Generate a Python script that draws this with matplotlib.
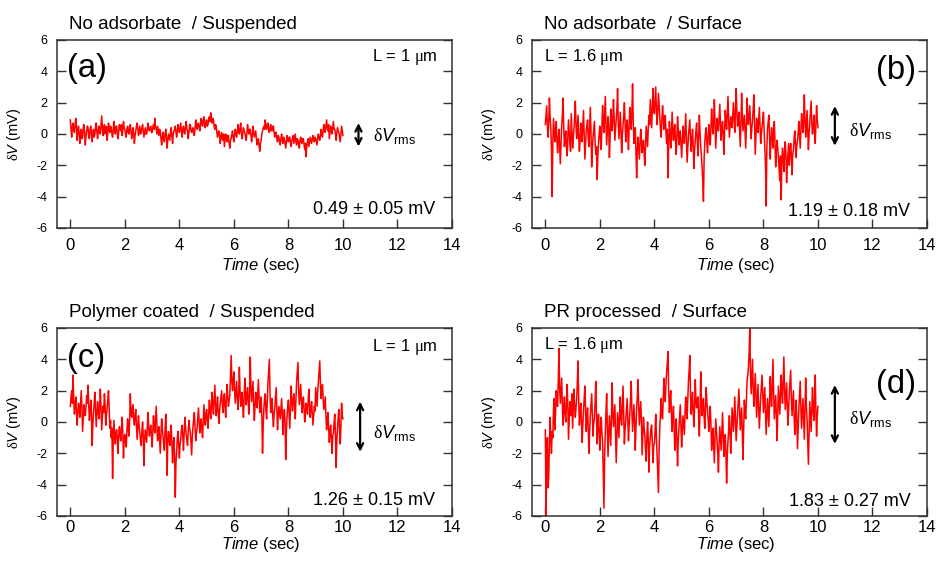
import numpy as np
import matplotlib
matplotlib.use('Agg')
import matplotlib.pyplot as plt

plt.rcParams['font.family'] = ['Liberation Sans', 'DejaVu Sans']
plt.rcParams['mathtext.fontset'] = 'custom'
plt.rcParams['mathtext.rm'] = 'Liberation Sans'
plt.rcParams['mathtext.it'] = 'Liberation Sans:italic'
plt.rcParams['mathtext.sf'] = 'Liberation Serif'
plt.rcParams['axes.unicode_minus'] = False

# time axis: 0 .. 10 s, one value every 25 ms
time = np.linspace(0, 10, 401)

# values (mV), one line = 0.5 s
trace_a = [
    0.9, 0.3, -0.2, 0.5, 0.7, 0.2, 0.1, 0.6, 1.0, 0.4, -0.4, 0.2, 0.5, 0.0, -0.6, 0.1, 0.3, -0.3, -0.2, 0.4,
    0.6, 0.0, -0.7, -0.1, 0.2, 0.5, 0.4, -0.2, -0.3, 0.3, 0.5, 0.0, -0.5, 0.1, 0.3, -0.2, 0.0, 0.4, 0.7, 0.1,
    -0.3, 0.2, 0.5, 0.1, 0.0, 0.6, 1.15, 0.4, -0.1, 0.3, 0.6, 0.0, 0.2, 0.5, -0.4, 0.1, 0.7, 0.3, 0.1, 0.5,
    0.4, 0.0, -0.2, 0.3, 0.8, 0.2, 0.0, 0.5, 0.5, 0.0, -0.3, 0.2, 0.6, 0.3, 0.2, 0.6, -0.1, 0.2, 0.8, 0.4,
    0.3, 0.0, -0.2, 0.3, 0.5, 0.1, 0.0, 0.4, 0.6, 0.2, -0.3, 0.1, 0.4, 0.0, -0.6, -0.1, 0.2, 0.5, 0.7, 0.3,
    -0.1, 0.2, 0.5, 0.0, 0.1, 0.4, 0.6, 0.2, -0.2, 0.1, 0.4, 0.0, 0.0, 0.3, 0.7, 0.3, 0.2, 0.4, 0.5, 0.1,
    0.1, 0.4, 0.6, 0.3, 1.0, 0.5, 0.3, 0.0, 0.5, 0.2, -0.1, 0.3, 0.2, -0.3, -0.7, -0.2, 0.1, -0.3, -0.5, 0.0,
    0.3, -0.2, -0.9, -0.4, 0.0, -0.2, -0.4, 0.1, 0.4, -0.1, -0.6, 0.0, 0.2, 0.3, 0.5, 0.1, -0.2, 0.2, 0.6, 0.3,
    0.1, 0.4, 0.7, 0.2, -0.2, 0.3, 0.5, 0.1, 0.0, 0.5, 0.8, 0.3, 0.2, -0.3, 0.1, 0.6, 0.6, 0.2, 0.1, 0.3,
    0.4, 0.0, -0.1, 0.4, 0.9, 0.5, 0.3, 0.6, 0.7, 0.4, 0.2, 0.6, 1.0, 0.7, 0.5, 0.9, 1.1, 0.6, 0.4, 0.8,
    0.9, 0.5, 0.6, 0.9, 1.1, 0.8, 1.35, 0.9, 0.7, 1.0, 0.9, 0.5, 0.3, 0.6, 0.5, 0.1, -0.2, 0.1, 0.2, -0.1,
    -0.6, -0.2, 0.1, -0.3, -0.4, 0.0, -0.8, -0.4, 0.0, -0.2, -0.5, -0.1, -0.1, -0.6, -0.9, -0.4, -0.3, 0.0, 0.2, -0.2,
    -0.5, -0.1, 0.3, 0.0, -0.2, 0.2, 0.6, 0.2, 0.0, 0.4, 0.7, 0.1, -0.3, 0.0, 0.4, 0.2, 0.1, -0.2, -0.4, 0.0,
    0.6, 0.2, 0.0, 0.3, 0.3, -0.1, -0.5, -0.1, 0.5, 0.1, -0.2, 0.0, 0.2, -0.3, -0.7, -0.4, -0.3, -0.8, -1.1, -0.6,
    -0.4, 0.0, 0.2, 0.4, 0.5, 0.3, 0.9, 0.5, 0.3, 0.6, 0.7, 0.3, 0.1, 0.4, 0.6, 0.2, 0.2, 0.5, 0.5, 0.1,
    -0.2, 0.1, 0.1, -0.3, -0.5, -0.1, -0.2, -0.5, -0.7, -0.3, 0.0, -0.4, -0.6, -0.2, -0.3, -0.6, -0.9, -0.5, -0.1, -0.4,
    -0.5, -0.2, -0.2, -0.6, -0.8, -0.4, -0.3, -0.1, -0.6, -0.3, 0.0, -0.5, -0.7, -0.3, -0.4, -0.7, -0.9, -0.4, -0.2, -0.5,
    -0.6, -0.3, -0.3, -0.7, -1.0, -0.6, -1.45, -0.8, -0.5, -0.3, -0.8, -0.5, -0.2, -0.4, -0.6, -0.3, -0.1, -0.4, -0.5, -0.2,
    -0.3, -0.5, -0.7, -0.2, 0.0, -0.3, -0.4, -0.1, 0.3, 0.0, -0.2, 0.2, 0.6, 0.2, 0.1, 0.5, 0.9, 0.4, 0.2, 0.6,
    -0.3, 0.1, 0.5, 0.2, 0.0, 0.4, 0.8, 0.3, 0.3, 0.0, -0.4, 0.1, 0.4, 0.2, 0.1, -0.2, -0.5, 0.0, 0.5, 0.2,
    -0.1,
]

trace_b = [
    0.6, 1.2, 1.8, 0.5, -0.2, 0.8, 2.3, 1.1, 0.4, -1.0, -4.0, -0.6, 1.0, 0.2, -0.5, 0.3, 0.8, -0.4, -1.2, -0.3,
    0.3, -0.8, -1.9, -0.6, 0.5, 1.2, 2.3, 0.4, -0.8, -0.2, 0.2, -0.9, -1.4, -0.3, 0.9, 0.1, -0.6, -1.1, 1.3, 0.2,
    -0.9, -0.3, 0.4, 1.0, 2.1, 0.6, -0.3, 0.4, 1.2, -0.2, -1.1, -0.4, 0.7, 0.2, -0.5, 0.5, 1.5, 0.0, -1.6, -0.7,
    0.2, 0.6, 0.9, -0.3, -0.8, 0.4, 1.7, 0.1, -2.1, -0.9, -0.2, 0.3, 0.8, -0.5, -1.3, -0.8, -2.9, -1.4, -0.6, 0.0,
    0.5, -0.4, -1.0, 0.3, 1.8, 0.7, 0.1, 1.2, 2.4, 0.6, -0.7, 0.2, 1.1, 0.4, -1.5, -0.2, 1.6, 0.8, 0.2, 1.0,
    2.2, 0.9, -0.4, 0.3, 1.0, 1.6, 2.9, 0.8, -0.3, 0.5, 1.4, 0.2, -1.2, -0.1, 0.6, 1.1, 2.0, 0.7, -0.5, 0.4,
    0.9, 0.1, -1.0, 0.6, 1.7, 0.9, 0.3, 1.4, 3.2, 0.8, -0.6, 0.0, 0.4, -1.2, -2.8, -1.0, -0.2, -0.9, -1.6, -0.5,
    0.3, -0.4, -1.2, -0.6, -0.4, -1.3, -2.0, -0.7, 0.5, -0.2, -0.8, 0.3, 1.2, 0.6, 2.2, 1.3, 0.4, 1.6, 2.9, 1.5,
    1.3, 2.1, 3.0, 1.4, 0.6, 1.5, 2.6, 1.8, 1.0, 0.2, -0.2, 0.9, 1.8, 1.0, 0.3, 0.8, 1.2, 0.1, -0.6, 0.3,
    -2.8, -0.7, 0.8, 0.2, -0.9, -0.3, 1.4, 0.5, -0.4, 0.2, 0.6, -0.5, -1.3, -0.2, 1.1, 0.3, -0.7, -0.1, 0.2, -0.6,
    -1.5, -0.5, 0.5, 0.0, -0.6, 0.4, 1.3, -0.2, -1.8, -0.9, -0.1, 0.4, 0.9, -0.3, -1.1, -0.3, 0.3, -0.8, -2.2, -1.0,
    -0.4, 0.2, 0.7, -0.5, -1.4, 0.0, 1.2, 0.1, -0.8, -1.4, -2.1, -3.0, -4.3, -1.6, -0.5, 0.1, 0.4, -0.6, -1.2, -0.2,
    0.6, 0.0, -0.7, 0.5, 1.6, 0.6, 0.0, 0.9, 2.2, 0.7, -0.9, 0.1, 1.0, 0.5, 0.2, 1.1, 1.9, 0.6, -0.4, 0.3,
    0.8, 0.0, -1.3, 0.2, 1.5, 0.8, 0.3, 1.3, 2.4, 0.9, -0.2, 0.5, 1.1, 0.6, 0.4, 1.2, 2.0, 0.9, 0.1, 1.4,
    2.9, 1.5, 0.5, 0.9, 1.4, 0.3, -0.8, 0.6, 2.6, 1.2, 0.2, 0.7, 1.2, 0.1, -0.9, 0.5, 2.3, 1.1, 0.6, 1.2,
    1.8, 0.6, -0.3, 0.4, 0.9, 1.6, 2.5, 0.7, -1.3, -0.2, 1.0, 0.4, 0.1, 0.9, 1.7, 0.6, -0.6, 0.0, 0.5, 0.9,
    1.4, 0.3, -0.8, -2.0, -4.6, -0.9, 0.3, 0.8, 1.2, -0.1, -1.6, -0.5, 0.4, -0.2, -0.9, 0.1, 0.8, -0.6, -2.1, -1.0,
    -0.4, -0.9, -1.5, -2.2, -3.0, -1.4, -4.2, -1.8, -0.9, -1.5, -2.4, -1.2, -0.5, -1.3, -3.1, -1.9, -1.2, -0.6, -2.0, -1.1,
    -0.6, -1.4, -2.6, -1.3, -1.0, -0.3, 0.2, -0.6, -1.5, -0.7, -0.4, 0.1, 0.8, -0.1, -0.9, 0.2, 1.3, 0.5, 0.1, 0.9,
    2.5, 0.8, -0.2, 0.6, 1.5, 0.3, -1.0, 0.0, 0.7, 1.3, 2.1, 0.6, 0.0, 0.5, 1.2, 0.1, -0.6, 0.6, 1.8, 0.9,
    0.4,
]

trace_c = [
    1.0, 1.6, 2.0, 1.2, 3.0, 1.4, 0.5, 1.0, 1.6, 0.7, -0.2, 0.6, 1.2, 0.8, 0.3, 1.1, 2.0, 0.9, -0.6, 0.2,
    1.1, 0.6, 0.4, 1.0, 1.7, 1.2, 2.35, 1.1, 0.1, 0.7, 1.4, 0.5, -1.5, -0.2, 0.6, 1.2, 1.9, 0.8, -0.3, 0.5,
    1.3, 0.7, 0.2, 0.9, 2.1, 1.0, -0.5, 0.3, 1.0, 0.6, 1.8, 1.1, -0.2, 0.4, 0.9, 1.4, 2.0, 0.7, -0.4, 0.1,
    -1.0, -0.4, -3.6, -1.2, 0.1, -0.6, -1.4, -0.7, -0.5, -1.1, -2.0, -0.9, -0.3, -0.8, -1.2, -0.5, 0.3, -0.6, -2.3, -1.0,
    -0.8, -1.3, -1.6, -0.6, 0.2, -0.4, -0.9, 0.1, 1.8, 0.6, 0.3, 0.9, 1.1, 0.2, -0.2, 0.4, 0.8, -0.1, -1.1, -0.4,
    0.4, -0.3, -0.7, -1.2, -1.5, -0.6, 0.0, -0.9, -2.8, -1.1, -0.5, -0.9, -1.3, -0.2, 0.6, -0.4, -0.9, -0.5, -0.2, -0.8,
    -1.6, -0.6, 0.4, -0.3, -0.7, 0.2, 1.0, -0.2, -1.2, -0.6, -0.3, -1.1, -2.0, -0.8, 0.2, -0.4, -0.9, -1.4, -1.8, -0.5,
    0.5, -0.9, -3.4, -1.2, -0.6, -1.1, -1.5, -0.7, -0.2, -1.3, -2.6, -1.4, -1.0, -2.2, -4.8, -2.6, -1.9, -1.0, -0.6, -1.5,
    -2.3, -1.4, -1.1, -0.5, -0.2, -0.9, -1.8, -0.8, 0.3, -0.3, -0.8, -1.2, -1.5, -0.6, 0.1, -0.4, -0.6, -1.3, -2.1, -0.9,
    -0.3, 0.2, 0.6, -0.4, -1.2, -0.7, -0.4, 0.3, 0.9, 0.0, -0.7, -0.2, 0.2, -0.5, -1.0, 0.1, 1.1, 0.4, -0.2, 0.5,
    0.8, 0.1, -0.4, 0.5, 1.4, 0.7, 0.2, 1.1, 1.9, 1.0, 0.5, 1.5, 2.35, 1.2, 0.4, 0.9, 1.6, 0.6, -0.1, 0.7,
    1.2, 1.6, 2.0, 1.1, 0.6, 1.3, 1.8, 0.9, 0.3, 1.5, 2.4, 1.6, 1.0, 1.4, 1.7, 2.9, 4.25, 2.6, 2.0, 2.7,
    3.2, 2.1, 1.2, 1.9, 2.6, 1.5, 0.8, 1.8, 3.5, 2.0, 1.0, 1.6, 1.9, 1.0, 0.3, 1.5, 2.8, 1.7, 1.1, 1.8,
    2.2, 1.2, 0.5, 1.9, 4.15, 2.2, 1.3, 2.0, 2.6, 1.1, 0.1, 1.0, 1.9, 1.2, 0.9, 1.8, 2.7, 1.5, 0.6, 1.0,
    1.6, 0.3, -2.0, -0.3, 0.9, 1.5, 1.8, 0.7, 0.2, 1.4, 2.5, 3.2, 4.0, 1.8, 0.6, 1.1, 1.5, 0.4, -0.3, 0.5,
    0.9, 1.6, 2.2, 0.8, -0.5, 0.4, 1.0, 0.6, 0.2, 0.9, 1.5, 0.5, -0.8, 0.2, 0.8, 0.1, -2.4, -0.6, 0.4, 1.0,
    1.4, 0.5, -0.4, 0.9, 2.3, 1.4, 0.7, 1.3, 1.8, 1.1, 0.2, 1.5, 2.6, 3.2, 3.8, 2.0, 1.1, 1.8, 2.4, 1.4,
    0.6, 1.2, 1.6, 0.8, 0.0, 0.7, 1.2, 0.9, 0.5, 1.4, 2.1, 1.0, 0.3, 0.9, 1.3, 0.6, -0.2, 0.4, 1.0, 0.7,
    2.2, 1.6, 1.0, 2.0, 2.6, 3.3, 3.9, 2.4, 1.5, 2.1, 2.4, 1.4, 0.8, 1.2, 1.6, 0.4, -0.5, 0.1, 0.6, -0.4,
    -1.3, -0.6, -0.2, -1.1, -2.0, -0.9, -0.7, 0.0, 0.5, -0.8, -2.9, -1.2, -0.4, 0.3, 0.8, -0.5, -1.4, -0.3, 1.2, 0.4,
    0.2,
]

trace_d = [
    -0.5, -6.0, -3.0, -1.0, -4.2, -3.5, -1.2, 0.3, -1.0, -2.0, -0.6, -1.0, 0.8, 1.5, -0.5, 0.6, 2.0, 1.2, 1.0, 2.6,
    4.7, 2.2, 1.2, 2.0, 2.8, 1.0, -0.2, 0.9, 1.6, 0.5, 0.0, 1.3, 2.4, 1.1, -1.1, 0.2, 1.3, 0.7, 0.4, 1.8,
    -0.4, 0.8, 2.1, 1.0, 0.3, 0.9, 1.5, 2.6, 3.9, 1.4, -0.2, 0.6, 1.2, 0.1, -1.3, -0.2, 0.7, 1.5, 2.3, 0.8,
    -0.6, 0.3, 0.9, -0.5, -2.0, -0.6, 0.4, 1.1, 1.8, 0.5, -0.9, -0.1, 0.2, 1.3, 2.6, 0.7, -1.4, -0.3, 0.5, -0.6,
    -1.8, -0.5, 0.3, -0.7, -1.2, -3.2, -5.5, -2.1, -0.6, 0.7, 1.8, -0.4, -2.2, -0.8, 0.4, -0.6, -1.5, 0.3, 2.5, 0.6,
    -0.3, 0.4, 1.1, -0.8, -2.6, -0.9, 0.6, -0.2, -1.0, 0.5, 1.6, 0.2, -0.2, 1.0, 2.3, 0.4, -1.4, -0.5, 0.1, 0.8,
    1.5, 0.2, -1.2, -0.2, 0.6, 1.4, 2.6, 0.7, -0.6, 0.3, 1.1, 0.0, -1.8, -0.3, 0.9, 1.7, 2.7, 1.0, -0.2, 0.6,
    1.3, 0.1, -2.1, -0.8, 0.3, -0.4, -0.9, -1.8, -2.5, -0.9, 0.0, -1.1, -3.2, -1.6, -1.0, -0.4, -0.2, -1.3, -2.6, -1.5,
    -1.4, -0.6, 0.5, -1.0, -2.2, -3.4, -4.5, -1.6, -0.3, 0.6, 1.5, 0.4, 0.2, 1.6, 2.8, 1.8, 1.3, 2.4, 3.2, 3.8,
    4.5, 2.0, 0.6, 1.4, 2.0, 0.5, -0.6, 0.3, 1.0, -0.4, -1.8, -0.5, 0.2, -1.1, -2.8, -1.2, -0.4, 0.4, 1.1, -0.2,
    -1.6, -0.4, 0.4, -0.2, -0.8, 0.6, 1.6, 0.7, 0.2, 1.4, 2.6, 3.3, 4.25, 1.8, 0.5, 1.3, 1.9, 0.6, -0.3, 1.0,
    2.7, 1.4, 0.9, 1.5, 1.6, 0.2, -0.9, 0.8, 3.2, 1.5, 0.4, 1.0, 1.5, 0.3, -0.4, 0.9, 2.2, 1.3, 0.7, 0.1,
    -0.6, 0.3, 1.0, -0.2, -1.8, -0.9, -0.4, -1.5, -2.6, -1.0, 0.2, -0.5, -1.1, -2.0, -3.2, -1.3, -0.3, -1.0, -1.8, -0.6,
    0.6, -0.8, -2.2, -1.3, -0.8, -2.0, -3.9, -2.1, -1.2, -0.5, 0.4, -0.7, -2.0, -0.6, 0.9, 0.1, -0.6, 0.5, 1.6, 0.3,
    -1.2, -0.3, 0.5, 1.3, 2.1, 0.8, -0.5, 0.2, 0.9, -0.6, -2.4, -0.5, 1.4, 0.6, 0.2, 1.5, 2.6, 3.0, 3.5, 4.4,
    6.0, 3.2, 1.8, 2.9, 4.0, 2.2, 1.0, 2.0, 3.1, 1.6, 0.3, 1.3, 2.4, 0.9, -0.4, 0.6, 1.6, 2.3, 3.0, 1.7,
    0.6, 1.4, 2.2, 0.7, -0.8, 0.3, 1.5, 0.6, -0.3, 1.2, 2.9, 1.7, 1.0, 2.4, 4.0, 1.8, 0.2, 1.0, 1.7, 0.4,
    -1.2, 0.6, 2.3, 1.4, 0.5, 1.8, 3.0, 2.0, 1.2, 2.6, 4.15, 2.1, 0.8, 1.6, 2.5, 1.0, -0.2, 0.9, 1.9, 2.6,
    3.3, 1.5, 0.4, 1.2, 2.0, 0.4, -0.8, 0.3, 1.4, 0.2, -1.7, -0.3, 0.9, 1.8, 2.6, 0.8, -0.4, 0.6, 1.5, 0.2,
    -1.1, 0.9, 2.8, 1.0, 0.2, -1.2, -2.7, -0.6, 1.3, 0.4, -0.6, 0.8, 2.2, 0.9, 0.1, 1.4, 3.0, 0.7, -0.9, 0.4,
    1.0,
]

traces = [trace_a, trace_b, trace_c, trace_d]
titles = ['No adsorbate  / Suspended', 'No adsorbate  / Surface',
          'Polymer coated  / Suspended', 'PR processed  / Surface']
letters = ['(a)', '(b)', '(c)', '(d)']
lengths = ['L = 1 $\\mathsf{\\mu}$m', 'L = 1.6 $\\mathsf{\\mu}$m',
           'L = 1 $\\mathsf{\\mu}$m', 'L = 1.6 $\\mathsf{\\mu}$m']
rms_text = ['0.49 ± 0.05 mV', '1.19 ± 0.18 mV', '1.26 ± 0.15 mV', '1.83 ± 0.27 mV']
arrow_span = [(-0.8, 0.7), (-0.75, 1.78), (-1.9, 1.3), (-1.4, 2.36)]

xticks = [0, 2, 4, 6, 8, 10, 12, 14]
yticks = [-6, -4, -2, 0, 2, 4, 6]

W, H = 938, 561
fig = plt.figure(figsize=(W / 100, H / 100), dpi=100)

# axes boxes in pixels: left, top
boxes = [(56.7, 40), (531.7, 40), (56.7, 328), (531.7, 328)]
bw, bh = 395.3, 188

# per-panel placement of annotations (axes fraction)
letter_pos = [(0.026, 0.85, 'left'), (0.973, 0.84, 'right'),
              (0.026, 0.84, 'left'), (0.973, 0.70, 'right')]
length_pos = [(0.965, 0.907, 'right'), (0.03, 0.91, 'left'),
              (0.965, 0.90, 'right'), (0.03, 0.91, 'left')]
rms_y = [0.096, 0.087, 0.085, 0.076]
arrow_x = [10.57, 10.62, 10.63, 10.62]
label_xy = [(11.09, -0.46), (11.15, -0.14), (11.09, -1.0), (11.15, -0.13)]
# bottom row sits closer to the figure edge: tighter x labels
xpad = [7.5, 7.5, 3.0, 3.0]
xlabel_y = [-0.15, -0.15, -0.10, -0.10]

edge = '#333333'

for i in range(4):
    left, top = boxes[i]
    ax = fig.add_axes([left / W, 1 - (top + bh) / H, bw / W, bh / H])
    ax.plot(time, traces[i], color='#ff0000', lw=1.1)
    ax.set_xlim(-0.5, 14)
    ax.set_ylim(-6, 6)
    ax.set_xticks(xticks)
    ax.set_yticks(yticks)
    ax.tick_params(axis='x', direction='in', length=6.5, width=1.0, color=edge,
                   labelsize=12, pad=xpad[i], top=False)
    ax.tick_params(axis='y', direction='in', length=6.5, width=1.0, color=edge,
                   labelsize=9, pad=6.5, right=True)
    for s in ax.spines.values():
        s.set_color(edge)
        s.set_linewidth(1.1)

    ax.set_xlabel('$\\mathit{Time}$ (sec)', fontsize=12)
    ax.xaxis.set_label_coords(0.517, xlabel_y[i])
    ax.set_ylabel('$\\mathsf{\\delta}\\mathit{V}$ (mV)', fontsize=10.5)
    ax.yaxis.set_label_coords(-0.085, 0.5)

    ax.text(0.031, 1.06, titles[i], transform=ax.transAxes, fontsize=13.5,
            ha='left', va='baseline')
    lx, ly, lha = letter_pos[i]
    ax.text(lx, ly, letters[i], transform=ax.transAxes, fontsize=23.5,
            ha=lha, va='center')
    px, py, pha = length_pos[i]
    ax.text(px, py, lengths[i], transform=ax.transAxes, fontsize=12,
            ha=pha, va='center')
    ax.text(0.958, rms_y[i], rms_text[i], transform=ax.transAxes, fontsize=13,
            ha='right', va='center')

    y0, y1 = arrow_span[i]
    ax.annotate('', xy=(arrow_x[i], y1), xytext=(arrow_x[i], y0),
                arrowprops=dict(arrowstyle='<->', lw=1.6, color='black',
                                mutation_scale=11, shrinkA=0, shrinkB=0))
    tx, ty = label_xy[i]
    ax.text(tx, ty, '$\\mathsf{\\delta}\\mathit{V}_{\\mathrm{rms}}$', fontsize=13,
            ha='left', va='baseline')

fig.savefig('out.png', dpi=100)
